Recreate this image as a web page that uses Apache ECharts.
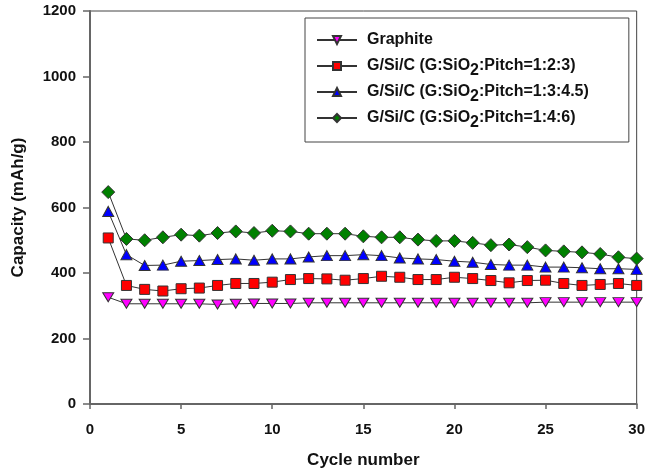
<!DOCTYPE html>
<html>
<head>
<meta charset="utf-8">
<script src="https://cdn.jsdelivr.net/npm/echarts@6/dist/echarts.min.js"></script>
<style>
html,body{margin:0;padding:0;background:#fff;}
#chart{width:648px;height:474px;}
</style>
</head>
<body>
<div id="chart"></div>
<script>
var cycles = [1,2,3,4,5,6,7,8,9,10,11,12,13,14,15,16,17,18,19,20,21,22,23,24,25,26,27,28,29,30];
var seriesNames = ['Graphite', 'G/Si/C (G:SiO2:Pitch=1:2:3)', 'G/Si/C (G:SiO2:Pitch=1:3:4.5)', 'G/Si/C (G:SiO2:Pitch=1:4:6)'];
var graphite = [326,306,306,306,306,306,304,306,307,307,307,309,309,309,309,309,309,309,309,309,309,309,309,309,311,311,311,311,311,311];
var gsc123 = [507,362,350,345,352,354,362,368,368,372,380,383,382,378,383,390,387,380,380,387,383,377,370,377,378,368,362,365,368,362];
var gsc1345 = [588,456,423,424,436,438,441,443,439,443,443,449,453,453,456,453,446,443,441,436,433,426,424,424,418,418,416,413,413,411];
var gsc146 = [647,504,500,509,517,514,522,527,522,529,527,520,520,520,512,509,509,502,498,498,492,485,487,479,469,466,463,458,448,444];
var yTicks = [0,200,400,600,800,1000,1200];
var xTicks = [0,5,10,15,20,25,30];

function pairs(vals){ return cycles.map(function(c,i){ return [c, vals[i]]; }); }

var FONT = 'Liberation Sans, Arial, sans-serif';
var chart = echarts.init(document.getElementById('chart'), null, {renderer:'canvas'});

function mk(name, vals, symbol, size, color, rotate){
  return {
    name: name, type: 'line', data: pairs(vals),
    symbol: symbol, symbolSize: size, symbolRotate: rotate || 0, showAllSymbol: true,
    lineStyle: {color: '#333', width: 1},
    itemStyle: {color: color, borderColor: '#333', borderWidth: 1},
    emphasis: {disabled: true},
    z: 3
  };
}

chart.setOption({
  animation: false,
  backgroundColor: '#fff',
  grid: {left: 90, right: 8, top: 11, bottom: 69, show: true, borderColor: '#444', borderWidth: 1, backgroundColor: 'transparent'},
  xAxis: {
    type: 'value', min: xTicks[0], max: xTicks[xTicks.length-1], interval: 5,
    name: 'Cycle number', nameLocation: 'middle', nameGap: 48,
    nameTextStyle: {fontFamily: FONT, fontWeight: 'bold', fontSize: 17, color: '#111'},
    axisLine: {lineStyle: {color: '#666', width: 2}},
    axisTick: {show: true, inside: false, length: 5, lineStyle: {color: '#666', width: 1.5}},
    axisLabel: {margin: 18, fontFamily: FONT, fontWeight: 'bold', fontSize: 15, color: '#111',
      formatter: function(v){ return String(v); }},
    splitLine: {show: false}
  },
  yAxis: {
    type: 'value', min: yTicks[0], max: yTicks[yTicks.length-1], interval: 200,
    name: 'Capacity (mAh/g)', nameLocation: 'middle', nameGap: 63, nameRotate: 90,
    nameTextStyle: {fontFamily: FONT, fontWeight: 'bold', fontSize: 17, color: '#111'},
    axisLine: {lineStyle: {color: '#666', width: 2}},
    axisTick: {show: true, inside: false, length: 7, lineStyle: {color: '#666', width: 1.5}},
    axisLabel: {margin: 14, fontFamily: FONT, fontWeight: 'bold', fontSize: 15, color: '#111',
      formatter: function(v){ return String(v); }},
    splitLine: {show: false}
  },
  legend: {
    orient: 'vertical', left: 305, top: 18,
    padding: [9, 40, 11, 11], itemGap: 0, itemWidth: 40, itemHeight: 10,
    backgroundColor: '#fff', borderColor: '#444', borderWidth: 1,
    data: seriesNames,
    formatter: function(n){ return n.replace('SiO2', 'SiO{s|2}'); },
    textStyle: {
      fontFamily: FONT, fontWeight: 'bold', fontSize: 16, color: '#111', lineHeight: 26, padding: [0,0,0,5],
      rich: {s: {fontFamily: FONT, fontWeight: 'bold', fontSize: 16, color: '#111', lineHeight: 26, verticalAlign: 'bottom'}}
    }
  },
  series: [
    mk(seriesNames[0], graphite, 'triangle', [11,9], '#ff00ff', 180),
    mk(seriesNames[1], gsc123, 'rect', 10, '#ff0000'),
    mk(seriesNames[2], gsc1345, 'triangle', [11,10], '#0000ff'),
    mk(seriesNames[3], gsc146, 'diamond', 13, '#008000')
  ]
});
</script>
</body>
</html>
